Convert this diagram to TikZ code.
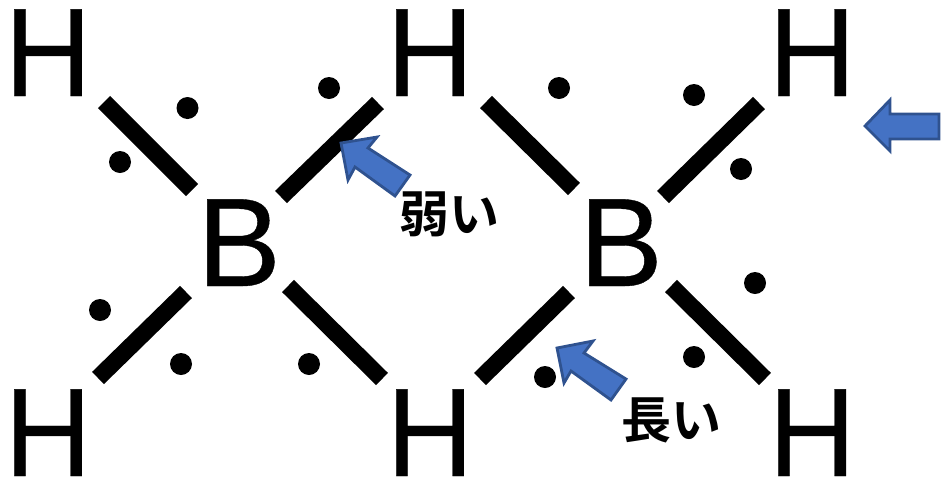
\documentclass[tikz,border=0pt]{standalone}
\usepackage{fontspec}
\setmainfont{Liberation Sans}
\newfontfamily\cjk{Noto Sans CJK JP}[BoldFont={* Bold}]
\newfontfamily\atomfont{Liberation Sans}[FakeBold=0.3]
\tikzset{
  atomH/.style={inner sep=0pt,anchor=base,transform shape,xscale=.96,font=\atomfont\fontsize{126}{126}\selectfont},
  atomB/.style={inner sep=0pt,anchor=base,font=\atomfont\fontsize{126}{126}\selectfont},
  bond/.style={line width=17pt,black},
  lone/.style={circle,fill=black,inner sep=0pt,minimum size=22pt},
  notearrow/.style={fill=arrowblue,draw=arrowedge,line width=2.8pt,miter limit=10},
  note/.style={inner sep=0pt,font=\cjk\bfseries\fontsize{50}{50}\selectfont}
}
\definecolor{arrowblue}{HTML}{4472C4}
\definecolor{arrowedge}{HTML}{2F528F}
\begin{document}
\begin{tikzpicture}[x=1pt,y=-1pt]
\useasboundingbox (0,0) rectangle (943,483);
\node[atomH] (h1) at (48,96) {H};
\node[atomH] (h2) at (430,96) {H};
\node[atomH] (h3) at (812,96) {H};
\node[atomH] (h4) at (48,476) {H};
\node[atomH] (h5) at (430,476) {H};
\node[atomH] (h6) at (812,476) {H};
\node[atomB] (b1) at (239,286) {B};
\node[atomB] (b2) at (621,286) {B};
\foreach \n/\a/\b/\c/\d in {a/104/102/192/190,b/281/197/378/103,c/486/102/574/189,d/663/197/759/103,e/186/292/98/378,f/288/286/382/379,g/569/292/480/379,h/671/286/765/379}{
  \coordinate (\n1) at (\a,\b);
  \coordinate (\n2) at (\c,\d);
  \draw[bond] (\n1) -- (\n2);
}
\foreach \n/\x/\y in {1/187.5/108,2/120/162,3/329/88,4/559/88,5/694/95,6/741/169,7/100/310,8/181/364,9/309/364,10/545/377,11/694/357,12/755/283}{
  \node[lone] (e\n) at (\x,\y) {};
}
\draw[notearrow] (341,143) -- (377,137) -- (368,148) -- (410,175) -- (395,196) -- (355,167) -- (348,180) -- cycle;
\draw[notearrow] (557,348) -- (593,341) -- (584,353) -- (626,379) -- (611,400) -- (571,371) -- (564,383) -- cycle;
\draw[notearrow] (865,126) -- (890,100) -- (890,114) -- (939,114) -- (939,139) -- (890,139) -- (890,151) -- cycle;
\node[note] (weak) at (449,214) {弱い};
\node[note] (long) at (671,420) {長い};
\end{tikzpicture}
\end{document}
